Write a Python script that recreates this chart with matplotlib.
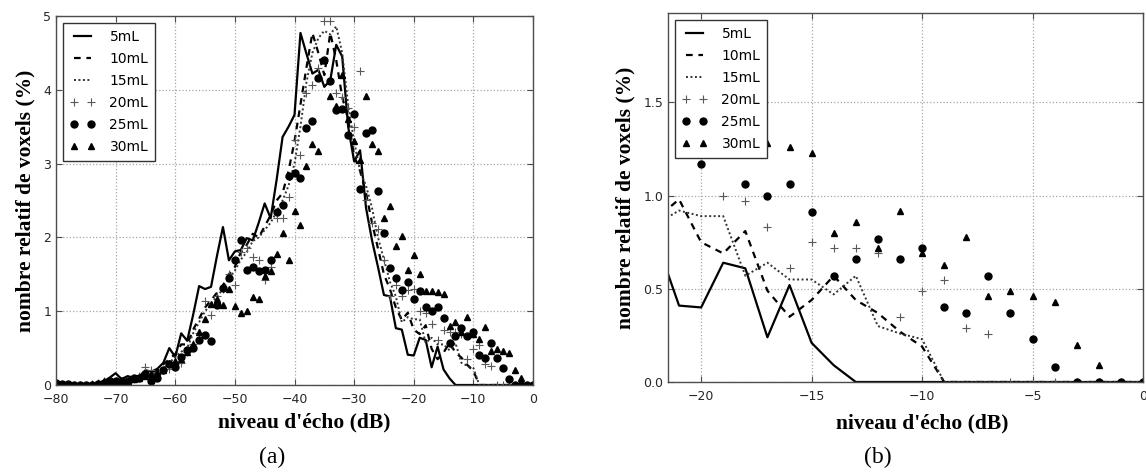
import matplotlib
matplotlib.use("Agg")
import matplotlib.pyplot as plt

# echo level (dB)
levels = [-80, -79, -78, -77, -76, -75, -74, -73, -72, -71,
          -70, -69, -68, -67, -66, -65, -64, -63, -62, -61,
          -60, -59, -58, -57, -56, -55, -54, -53, -52, -51,
          -50, -49, -48, -47, -46, -45, -44, -43, -42, -41,
          -40, -39, -38, -37, -36, -35, -34, -33, -32, -31,
          -30, -29, -28, -27, -26, -25, -24, -23, -22, -21,
          -20, -19, -18, -17, -16, -15, -14, -13, -12, -11,
          -10, -9, -8, -7, -6, -5, -4, -3, -2, -1, 0]

v5 = [0.0, 0.0, 0.0, 0.0, 0.0, 0.0, 0.02, 0.03, 0.05, 0.10,
      0.16, 0.08, 0.12, 0.10, 0.12, 0.20, 0.18, 0.22, 0.30, 0.50,
      0.38, 0.70, 0.60, 0.95, 1.34, 1.30, 1.33, 1.75, 2.14, 1.69,
      1.81, 1.83, 1.99, 1.96, 2.20, 2.46, 2.26, 2.78, 3.36, 3.50,
      3.66, 4.77, 4.49, 4.22, 4.27, 4.04, 4.13, 4.61, 4.45, 3.50,
      3.03, 3.18, 2.40, 1.96, 1.60, 1.22, 1.20, 0.77, 0.75, 0.41,
      0.40, 0.64, 0.61, 0.24, 0.52, 0.21, 0.09, 0.0, 0.0, 0.0,
      0.0, 0.0, 0.0, 0.0, 0.0, 0.0, 0.0, 0.0, 0.0, 0.0, 0.0]

v10 = [0.0, 0.0, 0.0, 0.0, 0.0, 0.0, 0.02, 0.03, 0.05, 0.05,
       0.08, 0.05, 0.08, 0.10, 0.12, 0.15, 0.18, 0.20, 0.28, 0.35,
       0.42, 0.55, 0.55, 0.75, 0.90, 1.05, 1.15, 1.25, 1.35, 1.50,
       1.60, 1.80, 1.90, 2.05, 2.00, 2.15, 2.30, 2.50, 2.60, 2.90,
       3.30, 3.80, 4.30, 4.77, 4.50, 4.20, 4.77, 4.40, 3.90, 3.60,
       3.10, 2.90, 2.60, 2.20, 1.85, 1.50, 1.30, 1.05, 0.88, 0.98,
       0.75, 0.69, 0.81, 0.49, 0.35, 0.44, 0.57, 0.44, 0.37, 0.27,
       0.19, 0.0, 0.0, 0.0, 0.0, 0.0, 0.0, 0.0, 0.0, 0.0, 0.0]

v15 = [0.0, 0.0, 0.0, 0.0, 0.0, 0.01, 0.02, 0.03, 0.04, 0.05,
       0.06, 0.05, 0.07, 0.08, 0.10, 0.13, 0.15, 0.18, 0.22, 0.30,
       0.38, 0.45, 0.50, 0.70, 0.85, 1.00, 1.10, 1.20, 1.30, 1.45,
       1.55, 1.70, 1.80, 1.95, 2.00, 2.10, 2.20, 2.35, 2.50, 2.70,
       3.00, 3.50, 4.10, 4.50, 4.70, 4.80, 4.75, 4.86, 4.50, 3.80,
       3.30, 2.90, 2.70, 2.40, 2.00, 1.70, 1.40, 1.20, 0.85, 0.92,
       0.89, 0.89, 0.57, 0.64, 0.55, 0.55, 0.47, 0.57, 0.30, 0.26,
       0.23, 0.0, 0.0, 0.0, 0.0, 0.0, 0.0, 0.0, 0.0, 0.0, 0.0]

v20 = [0.0, 0.0, 0.0, 0.0, 0.0, 0.0, 0.02, 0.03, 0.05, 0.04,
       0.05, 0.03, 0.05, 0.08, 0.12, 0.25, 0.20, 0.15, 0.20, 0.22,
       0.28, 0.30, 0.45, 0.55, 0.70, 1.14, 0.95, 1.20, 1.30, 1.50,
       1.35, 1.80, 1.85, 1.74, 1.70, 1.42, 1.60, 2.26, 2.26, 2.55,
       3.32, 3.12, 3.96, 4.06, 4.30, 4.93, 4.93, 3.95, 3.90, 3.75,
       3.50, 4.25, 2.50, 2.20, 2.12, 1.70, 1.20, 1.35, 1.20, 1.29,
       1.30, 1.00, 0.97, 0.83, 0.61, 0.75, 0.72, 0.72, 0.69, 0.35,
       0.49, 0.545, 0.29, 0.26, 0.0, 0.0, 0.0, 0.0, 0.0, 0.0, 0.0]

v25 = [0.03, 0.02, 0.01, 0.0, 0.0, 0.0, 0.0, 0.02, 0.03, 0.05,
       0.06, 0.05, 0.05, 0.10, 0.10, 0.15, 0.05, 0.10, 0.20, 0.28,
       0.25, 0.38, 0.47, 0.50, 0.61, 0.68, 0.59, 1.08, 1.31, 1.45,
       1.69, 1.96, 1.56, 1.60, 1.54, 1.56, 1.69, 2.35, 2.44, 2.83,
       2.87, 2.80, 3.48, 3.58, 4.16, 4.41, 4.12, 3.73, 3.74, 3.39,
       3.67, 2.66, 3.41, 3.46, 2.63, 2.06, 1.58, 1.45, 1.29, 1.40,
       1.17, 1.27, 1.06, 1.00, 1.06, 0.91, 0.57, 0.66, 0.77, 0.66,
       0.72, 0.40, 0.37, 0.57, 0.37, 0.23, 0.08, 0.0, 0.0, 0.0, 0.0]

v30 = [0.0, 0.0, 0.0, 0.0, 0.0, 0.0, 0.02, 0.03, 0.06, 0.04,
       0.05, 0.03, 0.05, 0.08, 0.10, 0.12, 0.15, 0.18, 0.20, 0.30,
       0.32, 0.35, 0.45, 0.56, 0.72, 0.90, 1.10, 1.17, 1.08, 1.30,
       1.07, 0.98, 1.00, 1.19, 1.16, 1.48, 1.54, 1.78, 2.06, 1.70,
       2.36, 2.17, 2.97, 3.27, 3.17, 4.40, 3.92, 3.78, 4.20, 3.60,
       3.30, 3.05, 3.92, 3.26, 3.17, 2.26, 2.42, 1.88, 2.02, 1.56,
       1.76, 1.50, 1.28, 1.28, 1.26, 1.23, 0.80, 0.86, 0.72, 0.92,
       0.69, 0.63, 0.78, 0.46, 0.49, 0.46, 0.43, 0.20, 0.09, 0.0, 0.0]

labels = ["5mL", "10mL", "15mL", "20mL", "25mL", "30mL"]

plt.rcParams['xtick.direction'] = 'in'
plt.rcParams['ytick.direction'] = 'in'
plt.rcParams['xtick.top'] = True
plt.rcParams['ytick.right'] = True

fig = plt.figure(figsize=(11.46, 4.73), dpi=100)
axA = fig.add_axes([56/1146, 1-385/473, (533-56)/1146, (385-16)/473])
axB = fig.add_axes([668/1146, 1-382/473, (1143-668)/1146, (382-13)/473])

serif = ['Liberation Serif', 'DejaVu Serif']

def draw(ax):
    ax.plot(levels, v5, color='black', lw=1.6, ls='-', label=labels[0])
    ax.plot(levels, v10, color='black', lw=1.6, ls=(0, (3, 2.6)), label=labels[1])
    ax.plot(levels, v15, color='0.2', lw=1.4, ls=(0, (1, 1.3)), label=labels[2])
    ax.plot(levels, v20, ls='none', marker='+', color='0.35', ms=6, mew=0.8, label=labels[3])
    ax.plot(levels, v25, ls='none', marker='o', color='black', ms=5, label=labels[4])
    ax.plot(levels, v30, ls='none', marker='^', color='black', ms=5, label=labels[5])
    ax.grid(True, color='0.65', ls=':', lw=0.9)
    for s in ax.spines.values():
        s.set_color('0.3')
        s.set_linewidth(1.0)
    ax.tick_params(labelsize=9, colors='0.3', labelcolor='0.15', length=4, width=0.8)
    ax.tick_params(axis='x', pad=6)
    leg = ax.legend(loc='upper left', numpoints=2, fancybox=False, fontsize=10,
                    labelspacing=0.58, handlelength=1.8, handletextpad=1.05,
                    borderpad=0.5, framealpha=1, borderaxespad=0.5)
    leg.get_frame().set_edgecolor('0.2')
    leg.get_frame().set_linewidth(1.0)
    ax.set_xlabel("niveau d'écho (dB)", family=serif, fontweight='bold', fontsize=15.5)
    ax.set_ylabel("nombre relatif de voxels (%)", family=serif, fontweight='bold', fontsize=15.5)

draw(axA)
axA.set_xlim(-80, 0)
axA.set_ylim(0, 5)
axA.set_xticks([-80, -70, -60, -50, -40, -30, -20, -10, 0])
axA.set_yticks([0, 1, 2, 3, 4, 5])
axA.xaxis.set_label_coords(0.521, -0.075)
axA.yaxis.set_label_coords(-0.044, 0.5)

draw(axB)
axB.set_xlim(-21.5, 0)
axB.set_ylim(0, 1.98)
axB.set_xticks([-20, -15, -10, -5, 0])
axB.set_yticks([0.0, 0.5, 1.0, 1.5])
axB.xaxis.set_label_coords(0.535, -0.085)
axB.yaxis.set_label_coords(-0.069, 0.5)

fig.text(272/1146, 1-457/473, "(a)", family=serif, fontsize=17, ha='center', va='center')
fig.text(878/1146, 1-457/473, "(b)", family=serif, fontsize=17, ha='center', va='center')

fig.savefig("out.png", dpi=100)
